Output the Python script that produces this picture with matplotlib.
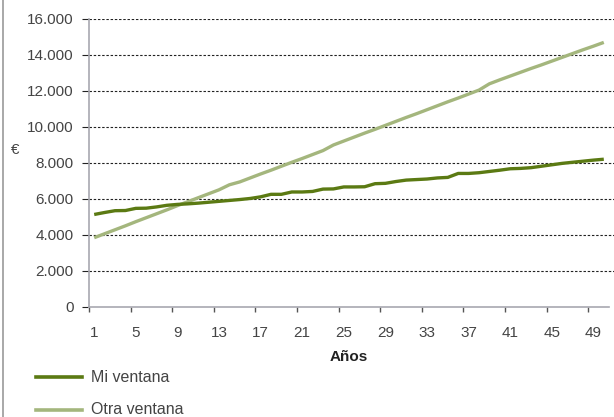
import matplotlib
matplotlib.use("Agg")
import matplotlib.pyplot as plt
from matplotlib.lines import Line2D

plt.rcParams['font.family'] = ['Liberation Sans', 'DejaVu Sans']

# data
years = list(range(1, 51))
mi_ventana = [5140, 5250, 5350, 5360, 5480, 5490, 5560, 5650, 5700, 5730,
              5770, 5820, 5870, 5920, 5970, 6030, 6120, 6260, 6260, 6390,
              6390, 6420, 6550, 6560, 6670, 6670, 6680, 6850, 6870, 6970,
              7050, 7080, 7110, 7170, 7200, 7420, 7420, 7460, 7530, 7600,
              7680, 7700, 7740, 7820, 7900, 7980, 8040, 8100, 8160, 8210]
otra_ventana = [3850, 4070, 4290, 4510, 4740, 4960, 5180, 5400, 5630, 5850,
                6070, 6290, 6510, 6790, 6950, 7170, 7390, 7600, 7820, 8040,
                8250, 8470, 8690, 9000, 9220, 9440, 9660, 9870, 10090, 10310,
                10530, 10740, 10960, 11180, 11400, 11610, 11830, 12050, 12400, 12620,
                12830, 13040, 13250, 13450, 13660, 13870, 14080, 14290, 14490, 14700]
tick_labels = [str(y) for y in range(1, 51, 4)]
yticks = list(range(0, 16001, 2000))
ytick_labels = ['0' if v == 0 else f"{v // 1000}.000" for v in yticks]

dark = '#5b7a13'
light = '#a4b67d'

W, H = 614, 417
fig = plt.figure(figsize=(W / 100, H / 100), dpi=100)
ax = fig.add_axes([89 / W, 1 - 307 / H, (614 - 89) / W, (307 - 19) / H])

ax.plot(years, otra_ventana, color=light, lw=2.4, solid_capstyle='butt', zorder=3)
ax.plot(years, mi_ventana, color=dark, lw=2.4, solid_capstyle='butt', zorder=4)

# 50 categories span 89..609 px, gridlines run on to the edge
ax.set_xlim(0.5, 0.5 + 50 * 525 / 520)
ax.set_ylim(0, 16000)

for v in yticks[1:]:
    ax.axhline(v, color='#222222', lw=0.8, ls=(0, (2.2, 1.6)), zorder=1)

# x axis: ticks at category boundaries, labels at centers
ax.set_xticks([b + 0.5 for b in range(0, 49, 4)])
ax.set_xticklabels([])
ax.set_xticks([int(t) for t in tick_labels], minor=True)
ax.set_xticklabels(tick_labels, minor=True)
ax.tick_params(axis='x', which='major', length=3.5, width=1, color='#555555', direction='out')
ax.tick_params(axis='x', which='minor', length=0, pad=14, labelsize=11, labelcolor='#444444')

ax.set_yticks(yticks)
ax.set_yticklabels(ytick_labels)
ax.tick_params(axis='y', length=5, width=0.8, color='#222222', pad=6,
               labelsize=11, labelcolor='#444444')

for s in ['top', 'right']:
    ax.spines[s].set_visible(False)
for s in ['left', 'bottom']:
    ax.spines[s].set_color('#a8a8b0')
    ax.spines[s].set_linewidth(1.2)
ax.spines['bottom'].set_bounds(0.5, 50.5)

fig.text(349 / W, 1 - 357 / H, 'Años', ha='center', va='center',
         fontsize=11, fontweight='bold', color='#222222')
fig.text(15 / W, 1 - 150 / H, '€', ha='center', va='center', fontsize=11, color='#444444')

# legend
for yy, col, lab in [(377, dark, 'Mi ventana'), (410, light, 'Otra ventana')]:
    fig.add_artist(Line2D([36 / W, 82 / W], [1 - yy / H, 1 - yy / H], color=col, lw=2.6,
                          transform=fig.transFigure))
    fig.text(91 / W, 1 - yy / H, lab, ha='left', va='center', fontsize=11.5, color='#444444')

# left border
fig.add_artist(Line2D([3 / W, 3 / W], [0, 1], color='#9a9a9a', lw=1.2, transform=fig.transFigure))

fig.savefig('out.png', dpi=100)
